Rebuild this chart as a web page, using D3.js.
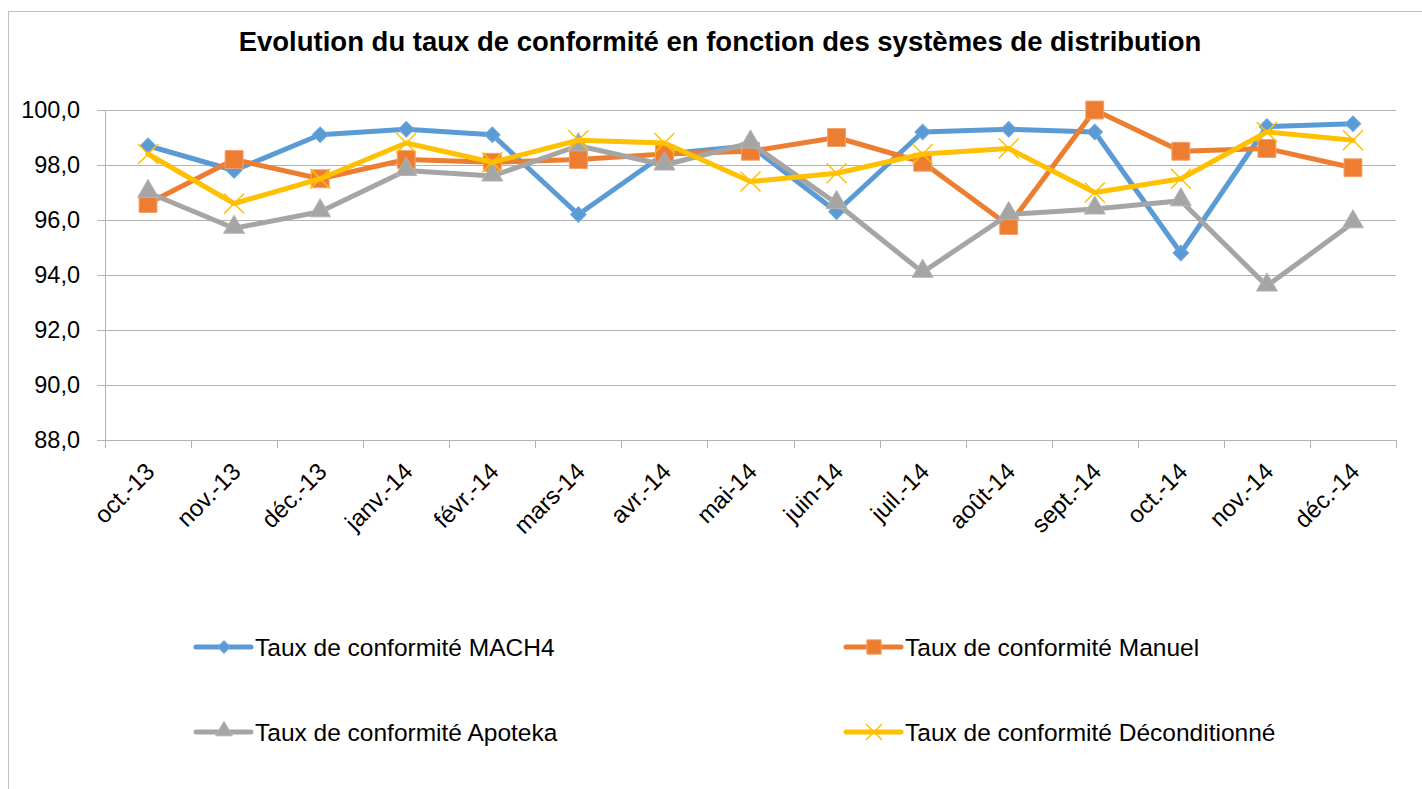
<!DOCTYPE html>
<meta charset="utf-8"/>
<title>Evolution du taux de conformité</title>
<script src="https://cdn.jsdelivr.net/npm/d3@7"></script>
<style>
  body { margin: 0; background: #fff; }
  svg text { font-family: 'Liberation Sans', Arial, sans-serif; fill: #000; }
</style>
<svg width=1422 height=789></svg>
<script>
  const months = ['oct.-13', 'nov.-13', 'déc.-13', 'janv.-14', 'févr.-14', 'mars-14', 'avr.-14',
    'mai-14', 'juin-14', 'juil.-14', 'août-14', 'sept.-14', 'oct.-14', 'nov.-14', 'déc.-14'];
  const mach4 = [98.7, 97.8, 99.1, 99.3, 99.1, 96.2, 98.4, 98.7, 96.3, 99.2, 99.3, 99.2, 94.8, 99.4, 99.5];
  const manuel = [96.6, 98.2, 97.5, 98.2, 98.1, 98.2, 98.4, 98.5, 99.0, 98.1, 95.8, 100.0, 98.5, 98.6, 97.9];
  const apoteka = [97.0, 95.7, 96.3, 97.8, 97.6, 98.7, 98.0, 98.8, 96.6, 94.1, 96.2, 96.4, 96.7, 93.6, 95.9];
  const decond = [98.4, 96.6, 97.5, 98.8, 98.1, 98.9, 98.8, 97.4, 97.7, 98.4, 98.6, 97.0, 97.5, 99.2, 98.9];
  const yTicks = [88, 90, 92, 94, 96, 98, 100];

  const series = [
    {name: 'Taux de conformité MACH4', values: mach4, color: '#5b9bd5', stroke: '#6aa6dc', shape: 'diamond'},
    {name: 'Taux de conformité Manuel', values: manuel, color: '#ed7d31', stroke: '#f4a06a', shape: 'square'},
    {name: 'Taux de conformité Apoteka', values: apoteka, color: '#a5a5a5', stroke: '#b4b4b4', shape: 'triangle'},
    {name: 'Taux de conformité Déconditionné', values: decond, color: '#ffc000', stroke: '#ffc000', shape: 'x'}
  ];

  const svg = d3.select('svg');
  const plot = {left: 105, right: 1396, top: 110, bottom: 440};

  // frame
  svg.append('rect')
    .attr('x', 8.5).attr('y', 11.5)
    .attr('width', 1420).attr('height', 790)
    .style('fill', 'none').style('stroke', '#bfbfbf');

  svg.append('text')
    .attr('class', 'title')
    .attr('x', 720).attr('y', 51)
    .attr('text-anchor', 'middle')
    .style('font-weight', 'bold')
    .style('font-size', '27.5px')
    .text('Evolution du taux de conformité en fonction des systèmes de distribution');

  const x = d3.scaleBand().domain(months).range([plot.left, plot.right]).padding(0);
  const y = d3.scaleLinear().domain([88, 100]).range([plot.bottom, plot.top]);
  const cx = d => x(d) + x.bandwidth() / 2;

  // horizontal gridlines with left ticks
  svg.append('g').selectAll('line')
    .data(yTicks).enter()
    .append('line')
    .attr('x1', plot.left - 8).attr('x2', plot.right)
    .attr('y1', d => Math.round(y(d)) + 0.5).attr('y2', d => Math.round(y(d)) + 0.5)
    .style('stroke', '#b3b3b3');

  svg.append('g').selectAll('text')
    .data(yTicks).enter()
    .append('text')
    .attr('x', 80).attr('y', d => y(d))
    .attr('dy', '0.35em')
    .attr('text-anchor', 'end')
    .style('font-size', '23.5px')
    .text(d => d3.format('.1f')(d).replace('.', ','));

  // axes lines
  svg.append('line')
    .attr('x1', plot.left + 0.5).attr('x2', plot.left + 0.5)
    .attr('y1', plot.top).attr('y2', plot.bottom)
    .style('stroke', '#b3b3b3');

  const edges = months.map(m => x(m)).concat([plot.right]);
  svg.append('g').selectAll('line')
    .data(edges).enter()
    .append('line')
    .attr('x1', d => Math.round(d) + 0.5).attr('x2', d => Math.round(d) + 0.5)
    .attr('y1', plot.bottom).attr('y2', plot.bottom + 8)
    .style('stroke', '#b3b3b3');

  svg.append('g').selectAll('text')
    .data(months).enter()
    .append('text')
    .attr('text-anchor', 'end')
    .attr('transform', d => 'translate(' + (cx(d) + 8) + ',' + (plot.bottom + 33) + ')rotate(-45)')
    .style('font-size', '24px')
    .text(d => d);

  function marker(sel, s, scale) {
    const k = scale || 1;
    if (s.shape === 'diamond') {
      sel.append('path')
        .attr('d', d3.symbol(d3.symbolSquare, 120 * k * k)())
        .attr('transform', 'rotate(45)')
        .style('fill', s.color).style('stroke', s.stroke);
    } else if (s.shape === 'square') {
      sel.append('path')
        .attr('d', d3.symbol(d3.symbolSquare, 320 * k * k)())
        .style('fill', s.color).style('stroke', s.stroke);
    } else if (s.shape === 'triangle') {
      sel.append('path')
        .attr('d', d3.symbol(d3.symbolTriangle, 190 * k * k)())
        .attr('transform', 'translate(0,-1)')
        .style('fill', s.color).style('stroke', s.stroke);
    } else {
      sel.append('path')
        .attr('d', d3.symbol(d3.symbolX, 265 * k * k)())
        .style('fill', 'none').style('stroke', s.color).style('stroke-width', 1.5);
    }
  }

  const line = d3.line()
    .x((d, i) => cx(months[i]))
    .y(d => y(d));

  series.forEach(function (s) {
    const g = svg.append('g');
    g.append('path')
      .datum(s.values)
      .attr('d', line)
      .style('fill', 'none')
      .style('stroke', s.color)
      .style('stroke-width', 5)
      .style('stroke-linejoin', 'round')
      .style('stroke-linecap', 'round');
    g.selectAll('g.pt')
      .data(s.values).enter()
      .append('g')
      .attr('class', 'pt')
      .attr('transform', (d, i) => 'translate(' + cx(months[i]) + ',' + y(d) + ')')
      .each(function () { marker(d3.select(this), s); });
  });

  // legend
  const legendPos = [[196, 647], [846, 647], [196, 732], [846, 732]];
  series.forEach(function (s, i) {
    const p = legendPos[i];
    const g = svg.append('g').attr('transform', 'translate(' + p[0] + ',' + p[1] + ')');
    g.append('line')
      .attr('x1', 0).attr('x2', 55)
      .style('stroke', s.color).style('stroke-width', 5)
      .style('stroke-linecap', 'round');
    marker(g.append('g').attr('transform', 'translate(28,0)'), s, 0.8);
    g.append('text')
      .attr('x', 59).attr('dy', '0.35em')
      .style('font-size', '24.5px')
      .text(s.name);
  });
</script>
